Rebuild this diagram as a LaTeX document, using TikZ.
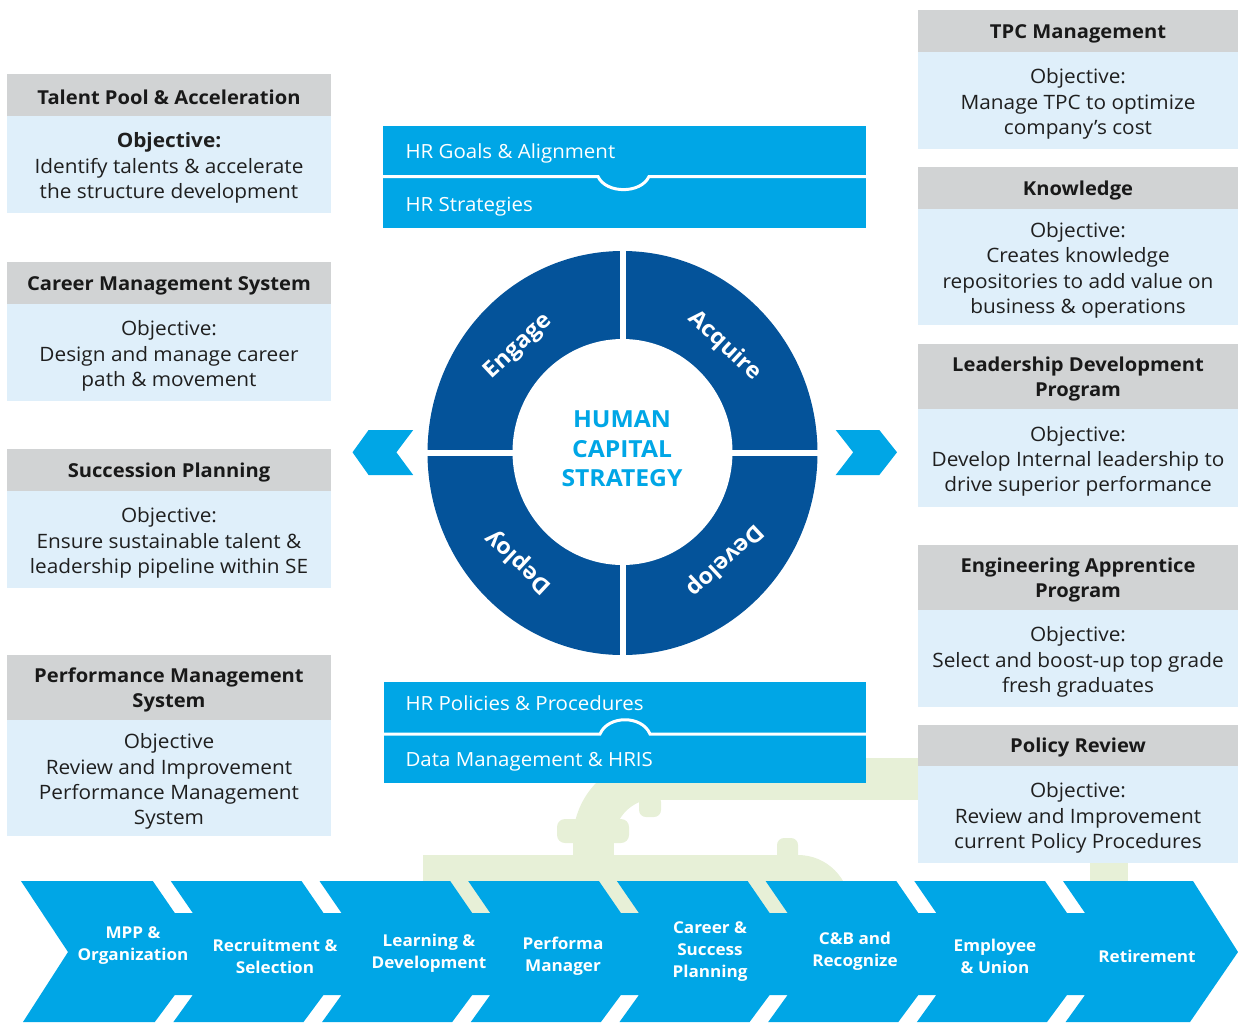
\documentclass[tikz,border=0pt]{standalone}
\usepackage{fontspec}
\setmainfont{Open Sans}[FakeStretch=1.05]
\usepackage{tikz}

\definecolor{hrcyan}{HTML}{00A6E6}
\definecolor{hrnavy}{HTML}{04539A}
\definecolor{hdrgray}{HTML}{D1D3D4}
\definecolor{objblue}{HTML}{DFEFFA}
\definecolor{pipegreen}{HTML}{E7F0D7}

\begin{document}
\begin{tikzpicture}[x=1pt,y=1pt,
		hdr/.style={font=\fontsize{19.2}{25.5}\selectfont\bfseries, align=center, text=black!90, yshift=-2.5},
		obj/.style={font=\fontsize{19.8}{25.3}\selectfont, align=center, text=black!88, yshift=-3.5},
		bartext/.style={font=\fontsize{19.5}{24}\selectfont, text=white, anchor=west, yshift=-1.5},
		stage/.style={font=\fontsize{16.3}{22}\selectfont\bfseries, text=white, align=center, yshift=-1.5},
		quad/.style={font=\fontsize{22.5}{26}\selectfont\bfseries, text=white},
	]
		\useasboundingbox (0,0) rectangle (1238,-1022);
		\def \gap {148.7}

		% pipework behind everything
		\fill[pipegreen] (610,-758) rectangle (918,-800);
		\fill[pipegreen] (573,-840) arc[start angle=180, end angle=90, radius=82]
			-- (655,-799) arc[start angle=90, end angle=180, radius=41] -- cycle;
		\fill[pipegreen] (573,-838) rectangle (614,-860);
		\fill[pipegreen, rounded corners=8] (557,-819) rectangle (629,-843);
		\fill[pipegreen, rounded corners=7] (639,-795) rectangle (661,-817);
		\fill[pipegreen] (423,-855) rectangle (798,-920);
		\fill[pipegreen] (798,-855) arc[start angle=90, end angle=0, radius=52] -- (798,-907) -- cycle;
		\fill[pipegreen, rounded corners=7] (777,-838) rectangle (798,-862);
		\fill[pipegreen] (1090,-800) rectangle (1128,-900);

		% objective boxes, left column
		\foreach \n/\xa/\xb/\ya/\yb/\yc/\ttl/\body in {
			tpa/7/331/74/116/213/{Talent Pool \& Acceleration}/{\textbf{Objective:}\\Identify talents \& accelerate\\the structure development},
			cms/7/331/262/304/401/{Career Management System}/{Objective:\\Design and manage career\\path \& movement},
			sp/7/331/449/491/588/{Succession Planning}/{Objective:\\Ensure sustainable talent \&\\leadership pipeline within SE},
			pms/7/331/655/720/836/{Performance Management\\System}/{Objective\\Review and Improvement\\Performance Management\\System}} {
			\fill[hdrgray] (\xa,-\ya) rectangle (\xb,-\yb) node[midway, hdr] (\n-title) {\ttl};
			\fill[objblue] (\xa,-\yb) rectangle (\xb,-\yc) node[midway, obj] (\n-obj) {\body};
		}

		% objective boxes, right column
		\foreach \n/\xa/\xb/\ya/\yb/\yc/\ttl/\body in {
			tpc/918/1238/10/52/149/{TPC Management}/{Objective:\\Manage TPC to optimize\\company’s cost},
			know/918/1238/167/209/325/{Knowledge}/{Objective:\\Creates knowledge\\repositories to add value on\\business \& operations},
			ldp/918/1238/344/409/507/{Leadership Development\\Program}/{Objective:\\Develop Internal leadership to\\drive superior performance},
			eap/918/1238/545/610/707/{Engineering Apprentice\\Program}/{Objective:\\Select and boost-up top grade\\fresh graduates},
			pr/918/1238/725/766/863/{Policy Review}/{Objective:\\Review and Improvement\\current Policy Procedures}} {
			\fill[hdrgray] (\xa,-\ya) rectangle (\xb,-\yb) node[midway, hdr] (\n-title) {\ttl};
			\fill[objblue] (\xa,-\yb) rectangle (\xb,-\yc) node[midway, obj] (\n-obj) {\body};
		}

		% HR bars above and below the ring
		\fill[hrcyan] (383,-126) rectangle (866,-228);
		\draw[white, line width=3] (383,-176.5) -- (598,-176.5) .. controls (606,-194) and (641,-194) .. (649,-176.5) -- (866,-176.5);
		\node[bartext] (goals) at (402,-152) {HR Goals \& Alignment};
		\node[bartext] (strategies) at (402,-205) {HR Strategies};

		\fill[hrcyan] (384,-682) rectangle (866,-783);
		\draw[white, line width=3] (384,-734) -- (600,-734) .. controls (608,-715) and (642,-715) .. (650,-734) -- (866,-734);
		\node[bartext] (policies) at (402,-702) {HR Policies \& Procedures};
		\node[bartext] (hris) at (402,-760) {Data Management \& HRIS};

		% the ring
		\fill[hrnavy] (622.5,-453) ellipse [x radius=195, y radius=202];
		\fill[white] (622.5,-452) ellipse [x radius=110, y radius=113];
		\draw[white, line width=6] (425,-453) -- (820,-453);
		\draw[white, line width=6] (622.5,-248) -- (622.5,-658);
		\node[font=\fontsize{23.5}{29.5}\selectfont\bfseries, text=hrcyan, align=center] (hcs) at (622,-449) {HUMAN\\CAPITAL\\STRATEGY};
		\node[quad, rotate=43] (engage) at (518.6,-347) {Engage};
		\node[quad, rotate=-43] (acquire) at (724.6,-346) {Acquire};
		\node[quad, rotate=223] (develop) at (724.6,-560) {Develop};
		\node[quad, rotate=137] (deploy) at (518.6,-562) {Deploy};

		% side arrows
		\fill[hrcyan] (352.5,-452.3) -- (368.6,-430) -- (413.2,-430) -- (396.4,-452.3) -- (413.2,-475) -- (368.6,-475) -- cycle;
		\fill[hrcyan] (897,-452.3) -- (879.3,-430) -- (835.7,-430) -- (853.2,-452.3) -- (835.7,-475) -- (879.3,-475) -- cycle;

		% lifecycle chevrons
		\fill[hrcyan] (21,-881)
			foreach \k in {0,...,6} { -- ({152.8+\gap*\k},-881) -- ({174.8+\gap*\k},-913) -- ({192.8+\gap*\k},-913) -- ({170.8+\gap*\k},-881) }
			-- (1193,-881) -- (1238,-952) -- (1190,-1022)
			foreach \k in {6,5,...,0} { -- ({173.4+\gap*\k},-1022) -- ({192.8+\gap*\k},-995) -- ({174.8+\gap*\k},-995) -- ({154.8+\gap*\k},-1022) }
			-- (23,-1022) -- (68,-952) -- cycle;

		\node[stage] (mpp) at (133,-944) {MPP \&\\Organization};
		\node[stage] (recruit) at (275,-955) {Recruitment \&\\Selection};
		\node[stage] (learning) at (429,-951.5) {Learning \&\\Development};
		\node[stage] (perf) at (563,-955) {Performa\\Manager};
		\node[stage] (career) at (710,-950) {Career \&\\Success\\Planning};
		\node[stage] (cb) at (855,-950) {C\&B and\\Recognize};
		\node[stage] (employee) at (995,-955) {Employee\\\& Union};
		\node[stage] (retire) at (1147,-955) {Retirement};
	\end{tikzpicture}
\end{document}
